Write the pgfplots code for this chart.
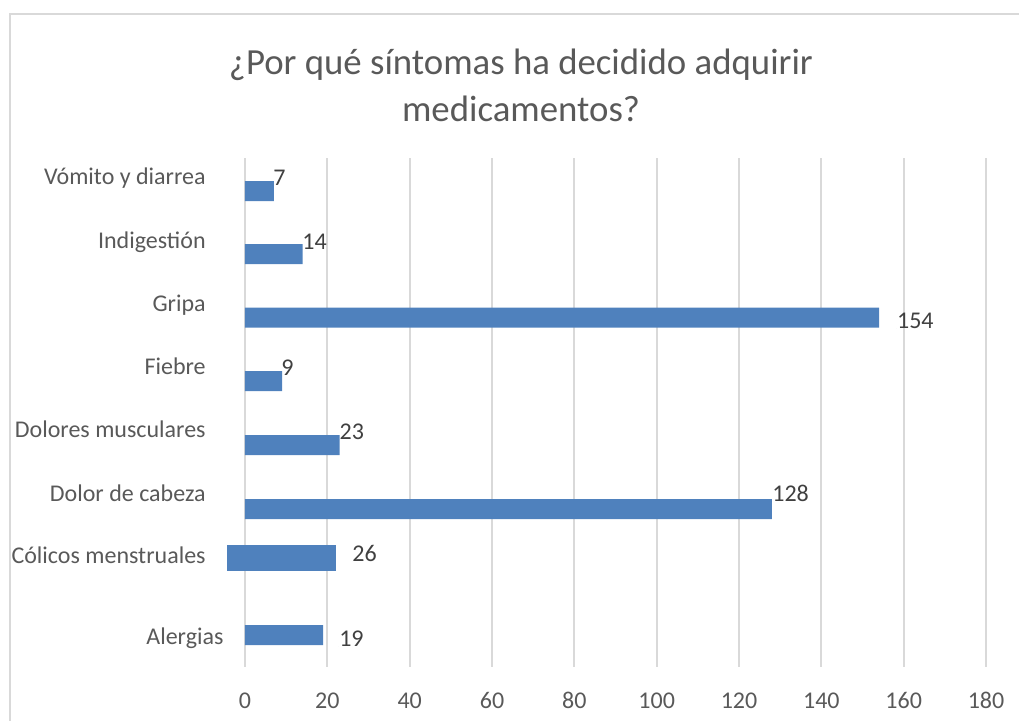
\documentclass[border=0pt]{standalone}
\usepackage{pgfplots}
\pgfplotsset{compat=1.18}
\usepackage{fontspec}
\setmainfont{Carlito}
\definecolor{barblue}{HTML}{4F81BD}
\definecolor{txtgray}{HTML}{595959}
\definecolor{lblgray}{HTML}{404040}
\definecolor{gridgray}{HTML}{D9D9D9}
\begin{document}
\begin{tikzpicture}[x=0.5pt,y=-0.5pt]
\useasboundingbox (0,0) rectangle (1019,721);
\draw[gridgray, line width=1pt] (10,740) -- (10,14) -- (1040,14);
\node[text=txtgray, font=\fontsize{18.4}{22}\selectfont, anchor=base, inner sep=0pt] at (521,75) {¿Por qué síntomas ha decidido adquirir};
\node[text=txtgray, font=\fontsize{18.4}{22}\selectfont, anchor=base, inner sep=0pt] at (521,122) {medicamentos?};
\begin{axis}[
  at={(101.915pt,-79pt)}, anchor=north west,
  x=2.0585pt, y=0.5pt, y dir=reverse,
  xmin=-10, xmax=180, ymin=158, ymax=667,
  axis x line=bottom, axis y line=left,
  axis line style={draw=none},
  xtick={0,20,...,180},
  major tick length=0pt,
  tick style={draw=none},
  xmajorgrids,
  grid style={gridgray, line width=1pt},
  xticklabel style={anchor=base, inner sep=0pt, yshift=-20.5pt, text=txtgray, font=\fontsize{12}{14}\selectfont},
  /pgf/number format/assume math mode=true,
  ytick={184.3,248.3,311.7,374,437.3,501,563.3},
  yticklabels={Vómito y diarrea, Indigestión, Gripa, Fiebre, Dolores musculares, Dolor de cabeza, Cólicos menstruales},
  yticklabel style={anchor=base east, inner sep=0pt, xshift=1.1pt, text=txtgray, font=\fontsize{12}{14}\selectfont},
  extra y ticks={644.3},
  extra y tick labels={Alergias},
  extra y tick style={yticklabel style={xshift=8.9pt}},
]
\addplot[xbar, bar width=20, fill=barblue, draw=none] coordinates {
  (7,191) (14,254) (154,317.5) (9,381) (23,445) (128,509) (19,635)
};
\addplot[fill=barblue, draw=none] coordinates {
  (-4.3,545) (22.1,545) (22.1,571) (-4.3,571)
} -- cycle;
\addplot[only marks, mark=*, mark size=0pt, mark options={draw=none, fill=none},
  nodes near coords, point meta=explicit symbolic,
  every node near coord/.style={anchor=base west, inner sep=0pt, text=lblgray, font=\fontsize{12}{14}\selectfont}]
  table[meta=lab] {
x y lab
6.8 185 7
13.85 249 14
158.3 328 154
8.75 375.7 9
22.9 439 23
128 501.7 128
26.0 561.7 26
22.8 646 19
};
\end{axis}
\end{tikzpicture}
\end{document}
